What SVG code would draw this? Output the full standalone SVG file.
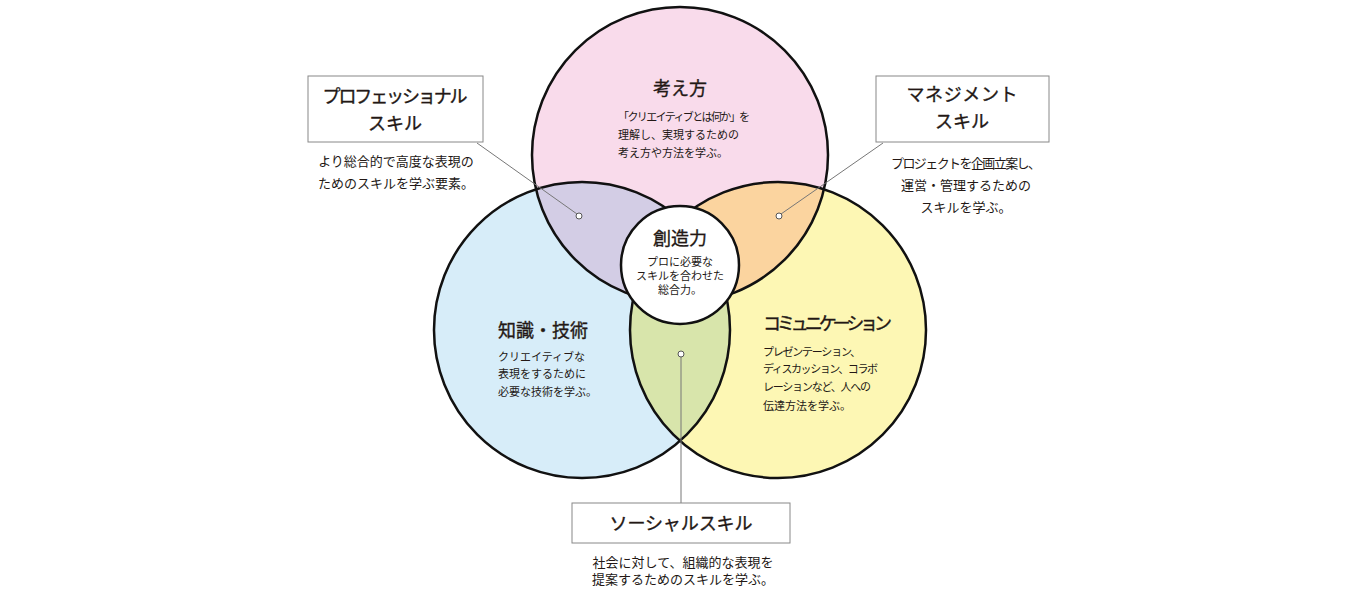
<svg xmlns="http://www.w3.org/2000/svg" width="1360" height="600" viewBox="0 0 1360 600">
<style>
text{font-family:"Noto Sans CJK JP","Noto Sans",sans-serif;fill:#231815}
.t{font-size:18px;font-weight:400;stroke:#231815;stroke-width:0.35}
.d{font-size:11px}
.b{font-size:13px}
.c{text-anchor:middle}
.ring{fill:none;stroke:#111;stroke-width:2.5}
.lead{stroke:#777;stroke-width:1;fill:none}
.dot{fill:#fff;stroke:#555;stroke-width:1}
.box{fill:#fff;stroke:#888;stroke-width:1}
</style>
<defs>
<clipPath id="cTop"><circle cx="680" cy="155" r="148"/></clipPath>
<clipPath id="cLeft"><circle cx="582" cy="330" r="148"/></clipPath>
</defs>
<rect width="1360" height="600" fill="#fff"/>
<g id="circle-top"><circle cx="680" cy="155" r="148" fill="#f9dbeb"/></g>
<g id="circle-left"><circle cx="582" cy="330" r="148" fill="#d7edf9"/></g>
<g id="circle-right"><circle cx="778" cy="330" r="148" fill="#fdf7b4"/></g>
<g id="overlaps">
<circle cx="582" cy="330" r="148" fill="#d3cde5" clip-path="url(#cTop)"/>
<circle cx="778" cy="330" r="148" fill="#fbd49f" clip-path="url(#cTop)"/>
<circle cx="778" cy="330" r="148" fill="#d8e5ab" clip-path="url(#cLeft)"/>
</g>
<g id="rings">
<circle class="ring" cx="680" cy="155" r="148"/>
<circle class="ring" cx="582" cy="330" r="148"/>
<circle class="ring" cx="778" cy="330" r="148"/>
</g>
<g id="center">
<circle cx="680" cy="265" r="59" fill="#fff" stroke="#111" stroke-width="2.5"/>
<text class="t c" x="680" y="245">創造力</text>
<text class="d c" x="680" y="266">プロに必要な</text>
<text class="d c" x="680" y="280">スキルを合わせた</text>
<text class="d c" x="680" y="294">総合力。</text>
</g>
<g id="connectors">
<line class="lead" x1="477" y1="143" x2="577" y2="214"/>
<line class="lead" x1="883" y1="143" x2="781" y2="214"/>
<line class="lead" x1="681" y1="357" x2="681" y2="503"/>
<circle class="dot" cx="579" cy="216" r="3"/>
<circle class="dot" cx="779" cy="216" r="3"/>
<circle class="dot" cx="681" cy="354" r="3"/>
</g>
<g id="node-kangaekata">
<text class="t c" x="680" y="95">考え方</text>
<text class="d" x="618" y="121" textLength="132">「クリエイティブとは何か」を</text>
<text class="d" x="618" y="139">理解し、実現するための</text>
<text class="d" x="618" y="157">考え方や方法を学ぶ。</text>
</g>
<g id="node-chishiki">
<text class="t" x="498" y="337">知識・技術</text>
<text class="d" x="498" y="361">クリエイティブな</text>
<text class="d" x="498" y="378">表現をするために</text>
<text class="d" x="498" y="396">必要な技術を学ぶ。</text>
</g>
<g id="node-communication">
<text class="t" x="763" y="330" textLength="129">コミュニケーション</text>
<text class="d" x="763" y="356" textLength="98">プレゼンテーション、</text>
<text class="d" x="763" y="373" textLength="115">ディスカッション、コラボ</text>
<text class="d" x="763" y="391" textLength="108">レーションなど、人への</text>
<text class="d" x="763" y="410">伝達方法を学ぶ。</text>
</g>
<g id="node-professional">
<rect class="box" x="308" y="76" width="175" height="66"/>
<text class="t c" x="395" y="103" textLength="145">プロフェッショナル</text>
<text class="t c" x="395" y="130">スキル</text>
<text class="b c" x="396" y="166">より総合的で高度な表現の</text>
<text class="b c" x="396" y="188">ためのスキルを学ぶ要素。</text>
</g>
<g id="node-management">
<rect class="box" x="876" y="76" width="173" height="66"/>
<text class="t c" x="962" y="101" textLength="111">マネジメント</text>
<text class="t c" x="962" y="128">スキル</text>
<text class="b c" x="966" y="168" textLength="150">プロジェクトを企画立案し、</text>
<text class="b c" x="966" y="190">運営・管理するための</text>
<text class="b c" x="966" y="212">スキルを学ぶ。</text>
</g>
<g id="node-social">
<rect class="box" x="572" y="503" width="218" height="40"/>
<text class="t c" x="681" y="530" textLength="143">ソーシャルスキル</text>
<text class="b c" x="683" y="567">社会に対して、組織的な表現を</text>
<text class="b c" x="683" y="584">提案するためのスキルを学ぶ。</text>
</g>
</svg>
